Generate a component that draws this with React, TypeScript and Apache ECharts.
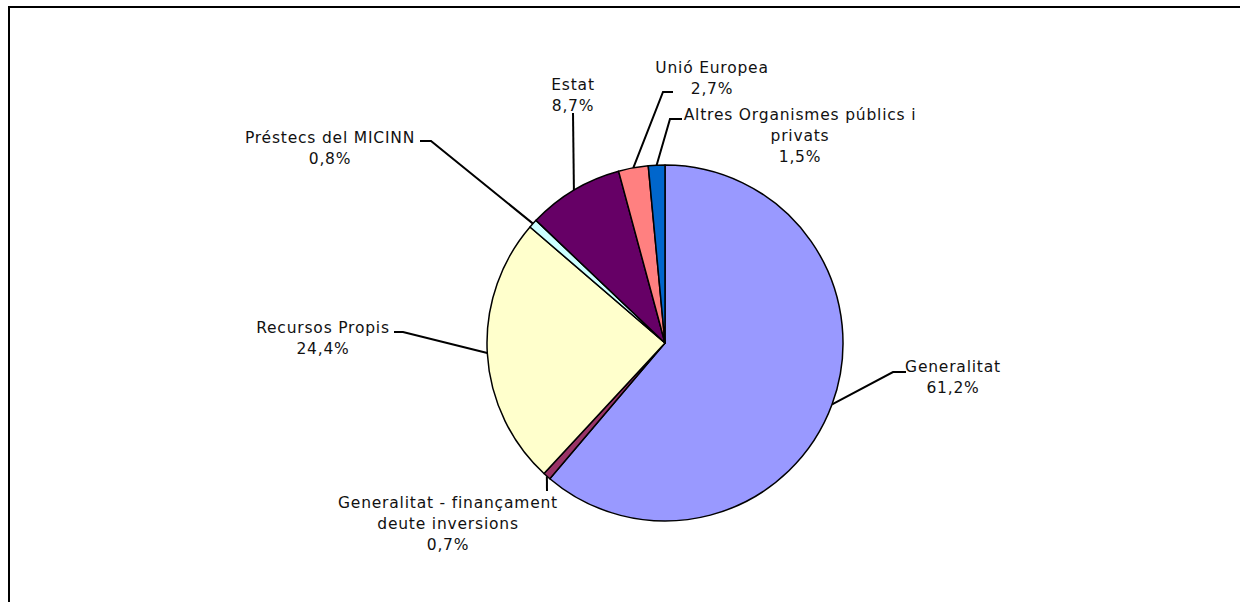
import React, { useEffect, useRef } from "react";
import * as echarts from "echarts";

const categories = [
  "Generalitat",
  "Generalitat - finançament\ndeute inversions",
  "Recursos Propis",
  "Préstecs del MICINN",
  "Estat",
  "Unió Europea",
  "Altres Organismes públics i\nprivats",
];
const values = [61.2, 0.7, 24.4, 0.8, 8.7, 2.7, 1.5];
const colors = ["#9999FF", "#993366", "#FFFFCC", "#CCFFFF", "#660066", "#FF8080", "#0066CC"];

// label placement (centre of the text block) and leader-line end / elbow
const labelPlacement = [
  { x: 953, y: 377, elbow: [893, 372], end: [906, 372] },
  { x: 448, y: 524, elbow: [547, 491], end: [547, 491] },
  { x: 323, y: 338, elbow: [403, 332], end: [394, 332] },
  { x: 330, y: 148, elbow: [431, 141], end: [420, 141] },
  { x: 573, y: 95, elbow: [573, 113], end: [573, 113] },
  { x: 712, y: 78, elbow: [663, 92], end: [673, 92] },
  { x: 800, y: 136, elbow: [670, 119], end: [682, 119] },
];

const fmt = (v: number) => v.toFixed(1).replace(".", ",") + "%";

export default function App() {
  const ref = useRef<HTMLDivElement>(null);
  useEffect(() => {
    if (!ref.current) return;
    const chart = echarts.init(ref.current, undefined, { renderer: "svg" });
    chart.setOption({
      animation: false,
      backgroundColor: "#ffffff",
      graphic: [
        {
          type: "polyline",
          shape: { points: [[9, 700], [9, 7], [1300, 7]] },
          style: { stroke: "#000", lineWidth: 2, fill: "none" },
          silent: true,
        },
      ],
      series: [
        {
          type: "pie",
          center: [665, 343],
          radius: 178,
          startAngle: 90,
          clockwise: true,
          avoidLabelOverlap: false,
          itemStyle: { borderColor: "#000", borderWidth: 1.5 },
          label: {
            show: true,
            position: "outside",
            fontFamily: "DejaVu Sans",
            fontSize: 15.5,
            lineHeight: 21,
            color: "#111",
            align: "center",
            formatter: (p: any) => `${p.name}\n${fmt(p.value)}`,
          },
          labelLine: {
            show: true,
            lineStyle: { color: "#000", width: 2 },
          },
          labelLayout: (params: any) => {
            const pl = labelPlacement[params.dataIndex];
            const pts = params.labelLinePoints;
            const start = pts && pts[0] ? pts[0] : pl.elbow;
            return {
              x: pl.x,
              y: pl.y,
              align: "center",
              verticalAlign: "middle",
              labelLinePoints: [start, pl.elbow, pl.end],
            };
          },
          data: categories.map((name, i) => ({
            name,
            value: values[i],
            itemStyle: { color: colors[i] },
          })),
        },
      ],
    });
    return () => chart.dispose();
  }, []);
  return (
    <>
      <style>{`svg text { letter-spacing: 0.8px; }`}</style>
      <div
        ref={ref}
        style={{ position: "absolute", left: 0, top: 0, width: 1240, height: 602 }}
      />
    </>
  );
}
